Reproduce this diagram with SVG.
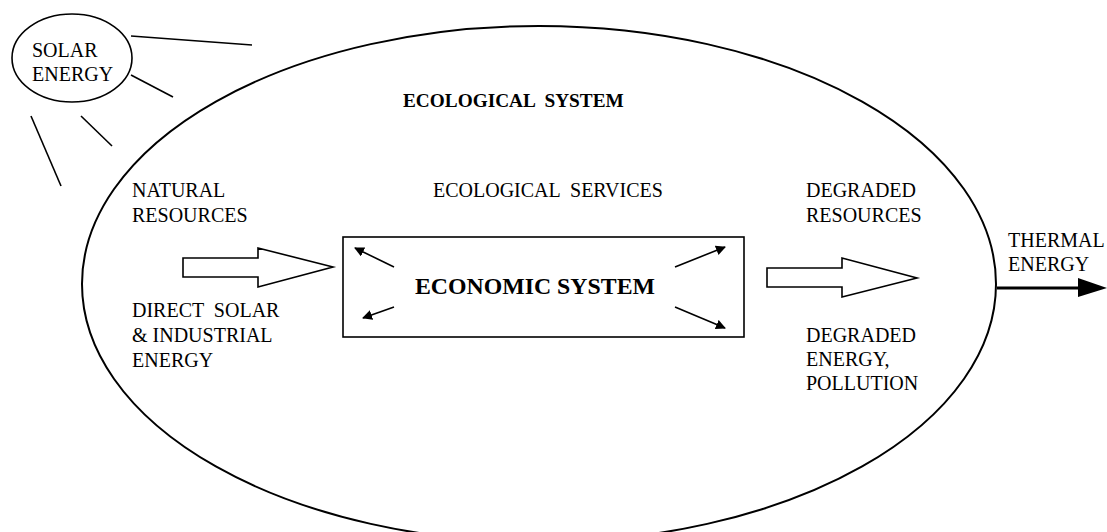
<svg xmlns="http://www.w3.org/2000/svg" width="1107" height="532" viewBox="0 0 1107 532">
<style>
text{font-family:"Liberation Serif","Times New Roman",serif;font-size:20px;fill:#000}
.b{font-weight:bold}
.t1{font-size:19.3px}
.t2{font-size:23.8px}
.ln{stroke:#000;stroke-width:1.6;fill:none}
.hollow{fill:#fff;stroke:#000;stroke-width:1.6;stroke-linejoin:miter}
</style>
<defs>
<marker id="ah" viewBox="0 0 10 10" refX="9" refY="5" markerWidth="10" markerHeight="10" markerUnits="userSpaceOnUse" orient="auto">
<path d="M0,0 L10,5 L0,10 z" fill="#000"/>
</marker>
</defs>
<rect width="1107" height="532" fill="#fff"/>
<g id="ecological-system">
<ellipse cx="539" cy="284" rx="457" ry="258" fill="none" stroke="#000" stroke-width="2"/>
<text class="b t1" x="403" y="107" xml:space="preserve">ECOLOGICAL  SYSTEM</text>
</g>
<g id="solar-energy">
<ellipse cx="72" cy="58" rx="60" ry="44" fill="#fff" stroke="#000" stroke-width="1.6"/>
<text x="32" y="57">SOLAR</text>
<text x="32" y="81">ENERGY</text>
</g>
<g id="solar-rays" class="ln">
<line x1="131" y1="36" x2="252" y2="45"/>
<line x1="131" y1="75" x2="173" y2="97"/>
<line x1="81" y1="116" x2="112" y2="146"/>
<line x1="31" y1="116" x2="61" y2="186"/>
</g>
<g id="natural-resources">
<text x="132" y="197">NATURAL</text>
<text x="132" y="222">RESOURCES</text>
</g>
<g id="direct-solar">
<text x="132" y="317" xml:space="preserve">DIRECT  SOLAR</text>
<text x="132" y="342">&amp; INDUSTRIAL</text>
<text x="132" y="367">ENERGY</text>
</g>
<g id="ecological-services">
<text x="433" y="197" xml:space="preserve">ECOLOGICAL  SERVICES</text>
</g>
<g id="degraded-resources">
<text x="806" y="197">DEGRADED</text>
<text x="806" y="222">RESOURCES</text>
</g>
<g id="degraded-energy">
<text x="806" y="342">DEGRADED</text>
<text x="806" y="366">ENERGY,</text>
<text x="806" y="390">POLLUTION</text>
</g>
<g id="thermal-energy">
<text x="1008" y="247">THERMAL</text>
<text x="1008" y="271">ENERGY</text>
</g>
<g id="economic-system">
<rect x="343" y="237" width="401" height="100" fill="none" stroke="#000" stroke-width="1.6"/>
<text class="b t2" x="535" y="294" text-anchor="middle">ECONOMIC SYSTEM</text>
</g>
<g id="connectors">
<polygon class="hollow" points="183,258 258,258 258,248 333,267 258,287 258,277 183,277"/>
<polygon class="hollow" points="767,268 842,268 842,258 917,278 842,297 842,287 767,287"/>
<g class="ln" marker-end="url(#ah)">
<line x1="394" y1="267" x2="355" y2="248"/>
<line x1="394" y1="307" x2="363" y2="318"/>
<line x1="675" y1="267" x2="725" y2="247"/>
<line x1="675" y1="307" x2="725" y2="328"/>
</g>
<line x1="997" y1="288" x2="1082" y2="288" stroke="#000" stroke-width="3"/>
<polygon points="1078,278 1107,288 1078,297" fill="#000"/>
</g>
</svg>
